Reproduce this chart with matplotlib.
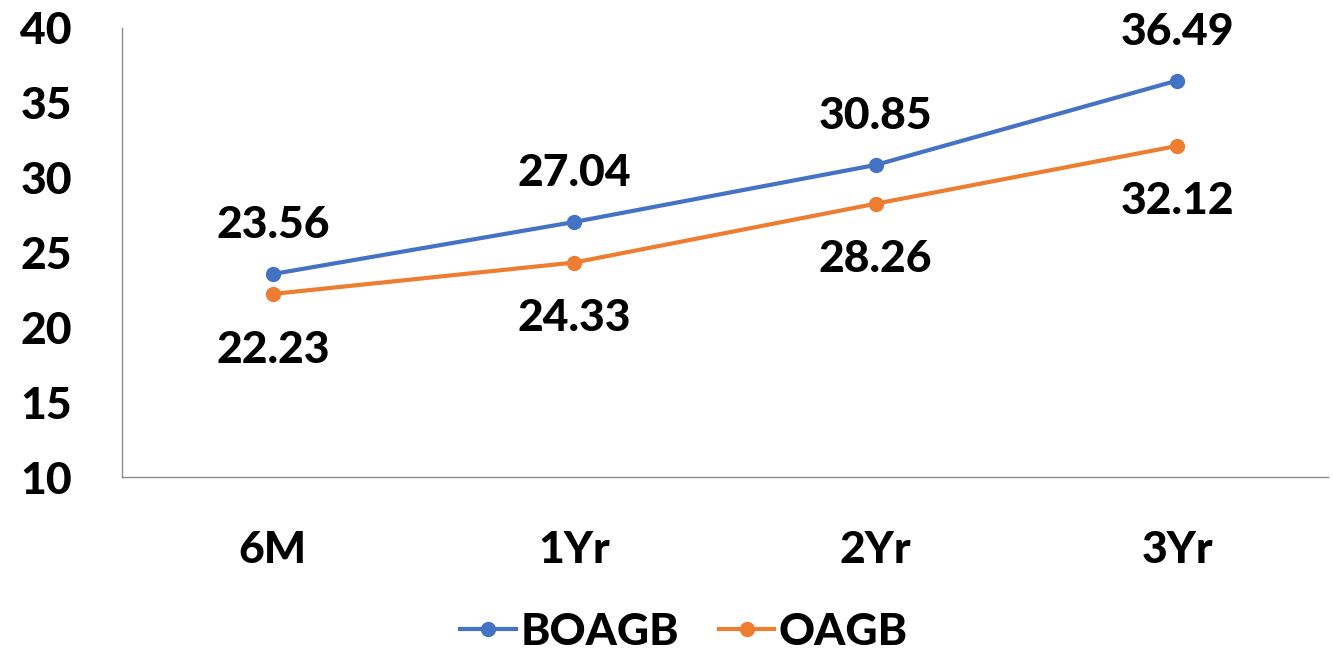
import matplotlib
matplotlib.use("Agg")
import matplotlib.pyplot as plt

periods = ["6M", "1Yr", "2Yr", "3Yr"]
boagb = [23.56, 27.04, 30.85, 36.49]
oagb = [22.23, 24.33, 28.26, 32.12]
yticks = [10, 15, 20, 25, 30, 35, 40]

BLUE = "#4472C4"
ORANGE = "#ED7D31"
FONT = "Lato"
W = "black"
FS = 32

plt.rcParams["font.family"] = [FONT, "DejaVu Sans"]
plt.rcParams["font.weight"] = W

fig = plt.figure(figsize=(13.33, 6.55), dpi=100)
ax = fig.add_axes([122 / 1333, 1 - 477 / 655, (1328 - 122) / 1333, (477 - 28) / 655])

x = list(range(len(periods)))
ax.plot(x, boagb, color=BLUE, lw=3, marker="o", ms=10, label="BOAGB")
ax.plot(x, oagb, color=ORANGE, lw=3, marker="o", ms=10, label="OAGB")

for xi, v in zip(x, boagb):
    ax.annotate(f"{v:.2f}", (xi, v), xytext=(0, 35), textcoords="offset points",
                ha="center", va="center", fontsize=FS, fontweight=W)
for xi, v in zip(x, oagb):
    ax.annotate(f"{v:.2f}", (xi, v), xytext=(0, -40), textcoords="offset points",
                ha="center", va="center", fontsize=FS, fontweight=W)

ax.set_xlim(-0.5, 3.5)
ax.set_ylim(10, 40)
ax.set_yticks(yticks)
ax.set_xticks(x)
ax.set_xticklabels(periods)
ax.tick_params(length=0, labelsize=FS)
ax.tick_params(axis="y", pad=36)
ax.tick_params(axis="x", pad=38)
for lab in ax.get_xticklabels() + ax.get_yticklabels():
    lab.set_fontweight(W)
for s in ["top", "right"]:
    ax.spines[s].set_visible(False)
for s in ["left", "bottom"]:
    ax.spines[s].set_color("#8c8c8c")
    ax.spines[s].set_linewidth(1)

leg = ax.legend(loc="center", bbox_to_anchor=(0.5 - 41 / 1206, (477 - 632) / 449),
                ncol=2, frameon=False, fontsize=FS, handlelength=1.25,
                columnspacing=0.9, handletextpad=0.1)
for t in leg.get_texts():
    t.set_fontweight(W)

fig.savefig("out.png", dpi=100)
